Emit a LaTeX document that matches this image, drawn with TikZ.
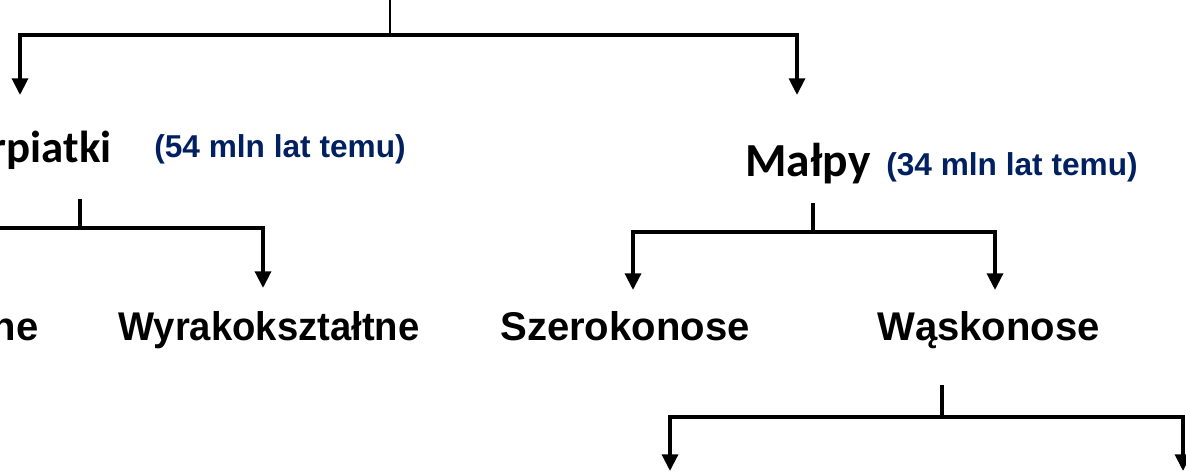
\documentclass[tikz,border=0pt]{standalone}
\usepackage{fontspec}
\setmainfont{Liberation Sans}
\newfontfamily\calibrifont{Carlito}
\usetikzlibrary{arrows.meta}
\usetikzlibrary{positioning}
\definecolor{agenavy}{RGB}{0,32,96}
\tikzstyle{clade} = [font=\calibrifont\bfseries\fontsize{27}{30}\selectfont, inner sep=0pt]
\tikzstyle{taxon} = [font=\bfseries\fontsize{22.8}{26}\selectfont, inner sep=0pt]
\tikzstyle{age} = [font=\bfseries\fontsize{18}{20}\selectfont, text=agenavy, inner sep=0pt]
\tikzstyle{branch} = [line width=2.2pt]
\tikzstyle{arrow} = [line width=2.2pt, -{Triangle[length=9.5pt,width=9pt]}]

\begin{document}
\begin{tikzpicture}[x=0.02cm, y=-0.02cm]
	\useasboundingbox (0,0) rectangle (1186,473);
	\clip (0,0) rectangle (1186,473);

	\node (prosim) [clade, font=\calibrifont\bfseries\fontsize{25.5}{28}\selectfont, anchor=base east] at (112,162) {rpiatki};
	\node (prosim_age) [age, anchor=base west] at (154,157) {(54 mln lat temu)};
	\node (malpy) [clade, anchor=base west] at (745,176) {Małpy};
	\node (malpy_age) [age, anchor=base west] at (886,175) {(34 mln lat temu)};
	\node (lemur) [taxon, anchor=base east] at (39,340) {ne};
	\node (wyrak) [taxon, anchor=base west, xscale=0.955, transform shape] at (118,340) {Wyrakokształtne};
	\node (szeroko) [taxon, anchor=base west] at (500,340) {Szerokonose};
	\node (wasko) [taxon, anchor=base west] at (877,340) {Wąskonose};

	\coordinate (root) at (390,0);
	\coordinate (root_bar) at (390,35);
	\coordinate (prosim_in) at (20,95);
	\coordinate (malpy_in) at (797,95);

	\coordinate (prosim_out) at (80,199);
	\coordinate (prosim_bar) at (80,228);
	\coordinate (lemur_in) at (-40,288);
	\coordinate (wyrak_in) at (263,288);

	\coordinate (malpy_out) at (813,203);
	\coordinate (malpy_bar) at (813,232);
	\coordinate (szeroko_in) at (633,290);
	\coordinate (wasko_in) at (995,290);

	\coordinate (wasko_out) at (942,385);
	\coordinate (wasko_bar) at (942,417);
	\coordinate (wasko_left_in) at (670,471);
	\coordinate (wasko_right_in) at (1183,471);

	\draw [branch, line width=1.4pt] (root) -- (root_bar);
	\draw [arrow] (root_bar) -| (prosim_in);
	\draw [arrow] (root_bar) -| (malpy_in);

	\draw [branch] (prosim_out) -- (prosim_bar);
	\draw [arrow] (prosim_bar) -| (lemur_in);
	\draw [arrow] (prosim_bar) -| (wyrak_in);

	\draw [branch] (malpy_out) -- (malpy_bar);
	\draw [arrow] (malpy_bar) -| (szeroko_in);
	\draw [arrow] (malpy_bar) -| (wasko_in);

	\draw [branch] (wasko_out) -- (wasko_bar);
	\draw [arrow] (wasko_bar) -| (wasko_left_in);
	\draw [arrow] (wasko_bar) -| (wasko_right_in);

\end{tikzpicture}
\end{document}
